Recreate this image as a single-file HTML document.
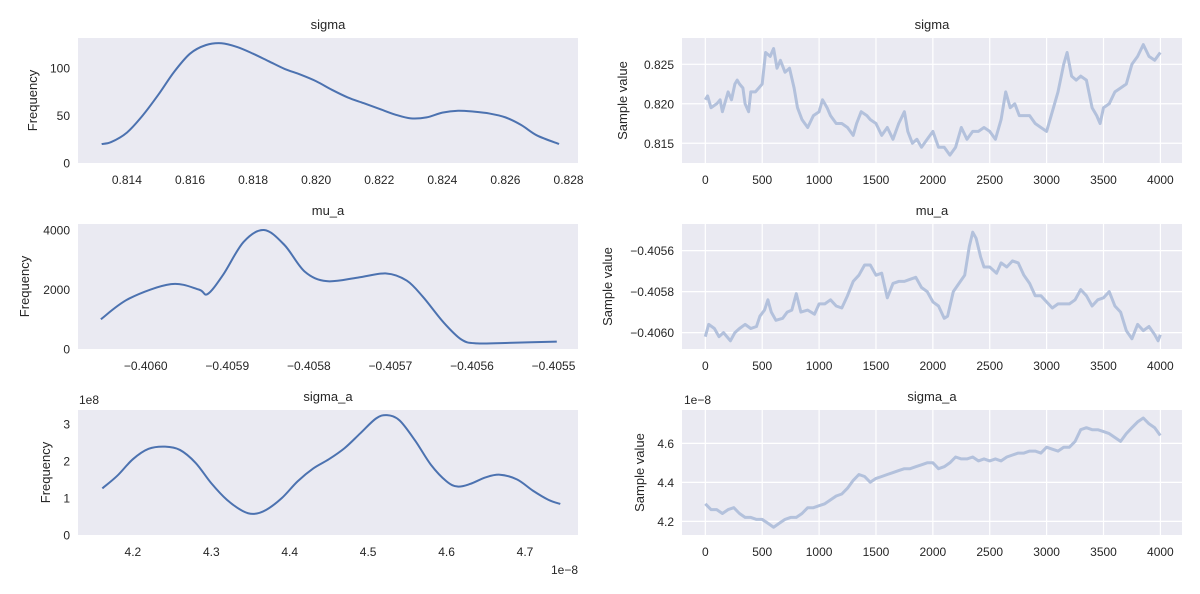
<!DOCTYPE html>
<html><head><meta charset="utf-8"><style>
html,body{margin:0;padding:0;background:#fff;}
svg{display:block;font-family:"Liberation Sans",Arial,sans-serif;}
</style></head><body>
<svg id="fig" width="1200" height="594" viewBox="0 0 1200 594"></svg>
<script>
// ---- KDE data ----
const sigmaKdeX=[0.8132,0.8135,0.814,0.8145,0.815,0.8155,0.816,0.8165,0.817,0.8175,0.818,0.8185,0.819,0.8195,0.820,0.8205,0.821,0.8215,0.822,0.8225,0.823,0.8235,0.824,0.8245,0.825,0.8255,0.826,0.8265,0.827,0.8277];
const sigmaKdeY=[20,22,32,50,72,96,115,124,126,122,115,107,99,93,86,77,69,63,57,51,47,48,53,55,54,52,48,40,29,20];
const muKdeX=[-0.406055,-0.40602,-0.405969,-0.405935,-0.405924,-0.405905,-0.40588,-0.405855,-0.40583,-0.405805,-0.405778,-0.40574,-0.405705,-0.40568,-0.40566,-0.405635,-0.405613,-0.405594,-0.40555,-0.405496];
const muKdeY=[1000,1700,2180,2000,1850,2500,3600,4000,3500,2600,2280,2400,2540,2300,1750,900,320,190,210,250];
const saKdeX=[4.161,4.18,4.2,4.22,4.241,4.26,4.28,4.3,4.32,4.34,4.354,4.37,4.39,4.41,4.43,4.45,4.47,4.49,4.51,4.524,4.54,4.56,4.58,4.60,4.614,4.63,4.65,4.668,4.69,4.71,4.73,4.745];
const saKdeY=[1.26,1.6,2.05,2.33,2.39,2.3,1.95,1.4,0.95,0.65,0.57,0.68,1.0,1.45,1.8,2.05,2.35,2.75,3.15,3.24,3.1,2.55,1.9,1.45,1.31,1.38,1.56,1.63,1.5,1.2,0.95,0.84];
// ---- trace data ----
const sigmaIter=[0,20,50,100,130,150,200,230,260,280,300,330,350,380,400,440,470,500,530,570,600,630,660,700,740,780,810,850,900,950,1000,1030,1070,1100,1150,1200,1250,1300,1330,1370,1420,1450,1500,1550,1600,1650,1700,1750,1780,1820,1860,1900,1950,2000,2050,2100,2150,2200,2250,2300,2350,2400,2450,2500,2550,2600,2640,2680,2720,2760,2800,2850,2900,2950,3000,3050,3100,3150,3180,3220,3260,3300,3350,3400,3440,3470,3500,3550,3600,3650,3700,3750,3800,3850,3900,3950,3999];
const sigmaVal=[0.8205,0.821,0.8195,0.820,0.8205,0.819,0.8215,0.8205,0.8225,0.823,0.8225,0.822,0.820,0.819,0.8215,0.8215,0.822,0.8225,0.8265,0.826,0.827,0.8245,0.8255,0.824,0.8245,0.822,0.8195,0.818,0.817,0.8185,0.819,0.8205,0.8195,0.8185,0.8175,0.8175,0.817,0.816,0.8175,0.819,0.8185,0.818,0.8175,0.816,0.817,0.8155,0.8175,0.819,0.8165,0.815,0.8155,0.8145,0.8155,0.8165,0.8145,0.8145,0.8135,0.8145,0.817,0.8155,0.8165,0.8165,0.817,0.8165,0.8155,0.818,0.8215,0.8195,0.820,0.8185,0.8185,0.8185,0.8175,0.817,0.8165,0.819,0.8215,0.825,0.8265,0.8235,0.823,0.8235,0.823,0.8195,0.8185,0.8175,0.8195,0.820,0.8215,0.822,0.8225,0.825,0.826,0.8275,0.826,0.8255,0.8265];
const muIter=[0,30,80,120,160,220,260,300,350,400,450,480,520,550,580,620,680,720,760,800,840,900,960,1000,1050,1100,1150,1200,1250,1300,1350,1400,1450,1500,1550,1600,1650,1700,1750,1800,1850,1900,1950,2000,2050,2100,2130,2180,2230,2280,2320,2350,2380,2420,2450,2500,2560,2600,2650,2700,2750,2800,2850,2900,2950,3000,3050,3100,3150,3200,3250,3300,3350,3400,3450,3500,3550,3600,3650,3700,3750,3800,3850,3900,3950,3980,3999];
const muVal=[-0.40602,-0.40596,-0.40598,-0.40602,-0.40600,-0.40604,-0.40600,-0.40598,-0.40596,-0.40598,-0.40597,-0.40592,-0.40589,-0.40584,-0.40590,-0.40594,-0.40593,-0.40590,-0.40589,-0.40581,-0.40590,-0.40589,-0.40591,-0.40586,-0.40586,-0.40584,-0.40587,-0.40588,-0.40582,-0.40575,-0.40572,-0.40567,-0.40567,-0.40572,-0.40571,-0.40583,-0.40576,-0.40575,-0.40575,-0.40574,-0.40573,-0.40578,-0.40580,-0.40585,-0.40587,-0.40593,-0.40592,-0.40580,-0.40576,-0.40572,-0.40558,-0.40551,-0.40554,-0.40563,-0.40568,-0.40568,-0.40571,-0.40566,-0.40568,-0.40565,-0.40566,-0.40572,-0.40576,-0.40582,-0.40582,-0.40585,-0.40588,-0.40586,-0.40586,-0.40586,-0.40584,-0.40579,-0.40582,-0.40587,-0.40584,-0.40583,-0.40580,-0.40587,-0.40590,-0.40599,-0.40603,-0.40596,-0.40599,-0.40597,-0.40601,-0.40604,-0.40601];
const saIter=[0,50,100,150,200,250,300,350,400,450,500,550,600,650,700,750,800,850,900,950,1000,1050,1100,1150,1200,1250,1300,1350,1400,1450,1500,1550,1600,1650,1700,1750,1800,1850,1900,1950,2000,2050,2100,2150,2200,2250,2300,2350,2400,2450,2500,2550,2600,2650,2700,2750,2800,2850,2900,2950,3000,3050,3100,3150,3200,3250,3300,3350,3400,3450,3500,3550,3600,3650,3700,3750,3800,3850,3900,3950,3999];
const saVal=[4.29,4.26,4.26,4.24,4.26,4.27,4.24,4.22,4.22,4.21,4.21,4.19,4.17,4.19,4.21,4.22,4.22,4.24,4.27,4.27,4.28,4.29,4.31,4.33,4.34,4.37,4.41,4.44,4.43,4.40,4.42,4.43,4.44,4.45,4.46,4.47,4.47,4.48,4.49,4.50,4.50,4.47,4.48,4.50,4.53,4.52,4.52,4.53,4.51,4.52,4.51,4.52,4.51,4.53,4.54,4.55,4.55,4.56,4.56,4.55,4.58,4.57,4.56,4.58,4.58,4.61,4.67,4.68,4.67,4.67,4.66,4.65,4.63,4.61,4.65,4.68,4.71,4.73,4.70,4.68,4.64];
// ---- ticks ----
const sigmaKdeXTicks=["0.814","0.816","0.818","0.820","0.822","0.824","0.826","0.828"];
const sigmaKdeYTicks=[0,50,100];
const muKdeXTicks=["-0.4060","-0.4059","-0.4058","-0.4057","-0.4056","-0.4055"];
const muKdeYTicks=[0,2000,4000];
const saKdeXTicks=["4.2","4.3","4.4","4.5","4.6","4.7"];
const saKdeYTicks=[0,1,2,3];
const iterTicks=[0,500,1000,1500,2000,2500,3000,3500,4000];
const sigmaTrYTicks=["0.815","0.820","0.825"];
const muTrYTicks=["-0.4060","-0.4058","-0.4056"];
const saTrYTicks=["4.2","4.4","4.6"];

const NS="http://www.w3.org/2000/svg";
const fig=document.getElementById('fig');
function mk(tag,attrs,parent){const e=document.createElementNS(NS,tag);for(const k in attrs)e.setAttribute(k,attrs[k]);(parent||fig).appendChild(e);return e;}
function txt(s,attrs,parent){const e=mk('text',attrs,parent);e.textContent=s.replace('-','\u2212');return e;}
function smooth(pts){let d='M'+pts[0][0]+','+pts[0][1];for(let i=0;i<pts.length-1;i++){const p0=pts[Math.max(0,i-1)],p1=pts[i],p2=pts[i+1],p3=pts[Math.min(pts.length-1,i+2)];const c1x=p1[0]+(p2[0]-p0[0])/6,c1y=p1[1]+(p2[1]-p0[1])/6,c2x=p2[0]-(p3[0]-p1[0])/6,c2y=p2[1]-(p3[1]-p1[1])/6;d+=' C'+c1x+','+c1y+' '+c2x+','+c2y+' '+p2[0]+','+p2[1];}return d;}

function panel(o){
  const g=mk('g',{});
  
  
  const L=o.x,T=o.y,W=500,H=o.h;
  const sx=v=>L+(v-o.xmin)/(o.xmax-o.xmin)*W;
  const sy=v=>T+H-(v-o.ymin)/(o.ymax-o.ymin)*H;
  const bg=mk('rect',{x:L,y:T,width:W,height:H,fill:'#EAEAF2'},g);
  
  
  o.xt.forEach(t=>{const v=parseFloat(t);const X=sx(v);
    if(o.grid){const gl=mk('line',{x1:X,x2:X,y1:T,y2:T+H,stroke:'#fff','stroke-width':1.2},g);}
    const tl=txt(String(t),{x:X,y:T+H+21,'text-anchor':'middle','font-size':12,fill:'#262626'},g);
    });
  o.yt.forEach(t=>{const v=parseFloat(t);const Y=sy(v);
    if(o.grid){const gl=mk('line',{x1:L,x2:L+W,y1:Y,y2:Y,stroke:'#fff','stroke-width':1.2},g);}
    const tl=txt(String(t),{x:L-8,y:Y+4.5,'text-anchor':'end','font-size':12,fill:'#262626'},g);
    });
  const pts=o.xs.map((v,i)=>[sx(v),sy(o.ys[i])]);
  let path;
  if(o.kde){path=mk('path',{d:smooth(pts),fill:'none',stroke:'#4C72B0','stroke-width':2},g);}
  else{path=mk('polyline',{points:pts.map(p=>p[0].toFixed(1)+','+p[1].toFixed(1)).join(' '),fill:'none',stroke:'#B3C1DC','stroke-width':3,'stroke-linejoin':'round'},g);}
  
  
  const ti=txt(o.title,{x:L+W/2,y:T-9,'text-anchor':'middle','font-size':13,fill:'#262626'},g);
  
  const yl=txt(o.ylabel,{x:o.ylx,y:T+H/2,'text-anchor':'middle','font-size':13,fill:'#262626',transform:'rotate(-90 '+o.ylx+' '+(T+H/2)+')'},g);
  
}
panel({name:'sigma-kde-panel',x:78,y:38,h:125,xmin:0.81245,xmax:0.8283,ymin:0,ymax:131.5,xs:sigmaKdeX,ys:sigmaKdeY,xt:sigmaKdeXTicks,yt:sigmaKdeYTicks,kde:true,title:'sigma',ylabel:'Frequency',ylx:37});
panel({name:'mu-a-kde-panel',x:78,y:224,h:125,xmin:-0.406083,xmax:-0.40547,ymin:0,ymax:4202,xs:muKdeX,ys:muKdeY,xt:muKdeXTicks,yt:muKdeYTicks,kde:true,title:'mu_a',ylabel:'Frequency',ylx:29});
panel({name:'sigma-a-kde-panel',x:78,y:410,h:125,xmin:4.13,xmax:4.7676,ymin:0,ymax:3.38,xs:saKdeX,ys:saKdeY,xt:saKdeXTicks,yt:saKdeYTicks,kde:true,title:'sigma_a',ylabel:'Frequency',ylx:50});
panel({name:'sigma-trace-panel',x:682,y:38,h:125,xmin:-205,xmax:4190,ymin:0.8125,ymax:0.82833,xs:sigmaIter,ys:sigmaVal,xt:iterTicks,yt:sigmaTrYTicks,kde:false,grid:true,title:'sigma',ylabel:'Sample value',ylx:627});
panel({name:'mu-a-trace-panel',x:682,y:224,h:125,xmin:-205,xmax:4190,ymin:-0.40608,ymax:-0.40547,xs:muIter,ys:muVal,xt:iterTicks,yt:muTrYTicks,kde:false,grid:true,title:'mu_a',ylabel:'Sample value',ylx:612});
panel({name:'sigma-a-trace-panel',x:682,y:410,h:125,xmin:-205,xmax:4190,ymin:4.13,ymax:4.771,xs:saIter,ys:saVal,xt:iterTicks,yt:saTrYTicks,kde:false,grid:true,title:'sigma_a',ylabel:'Sample value',ylx:644});
const o1=txt('1e8',{x:79,y:404,'font-size':12,fill:'#262626'});

const o2=txt('1e-8',{x:578,y:574,'text-anchor':'end','font-size':12,fill:'#262626'});

const o3=txt('1e-8',{x:684,y:404,'font-size':12,fill:'#262626'});

</script>
</body></html>
